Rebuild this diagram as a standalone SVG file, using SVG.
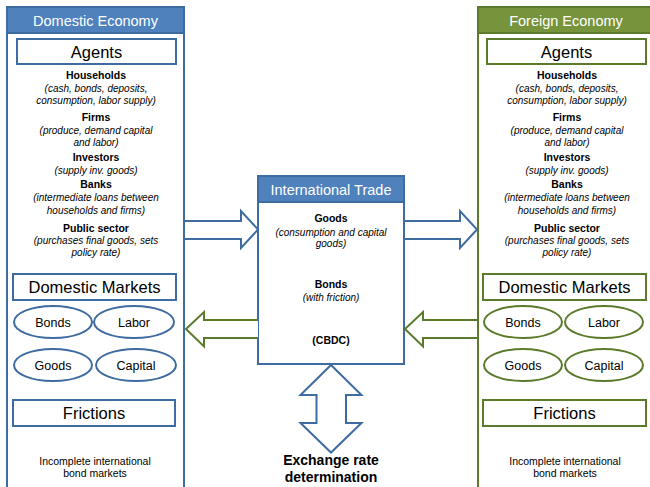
<svg xmlns="http://www.w3.org/2000/svg" width="650" height="487" viewBox="0 0 650 487">
<style>
  text{font-family:"Liberation Sans",Arial,sans-serif;text-anchor:middle;fill:#000}
  .hd{fill:#fff;font-size:14.5px}
  .big{font-size:16.5px}
  .b{font-weight:bold;font-size:10.5px}
  .i{font-style:italic;font-size:10px}
  .n{font-size:10.5px}
  .el{font-size:12.5px}
  .xr{font-weight:bold;font-size:14px}
  .bst{stroke:#3E6BA0;stroke-width:2;fill:#fff}
  .gst{stroke:#5B7A2B;stroke-width:2;fill:#fff}
  .bhd{fill:#4F81BD;stroke:#3E6BA0;stroke-width:2}
  .ghd{fill:#77933C;stroke:#5B7A2B;stroke-width:2}
  .bar{fill:#fff;stroke:#3E6BA0;stroke-width:2;stroke-linejoin:miter}
  .gar{fill:#fff;stroke:#5B7A2B;stroke-width:2;stroke-linejoin:miter}
</style>
<rect width="650" height="487" fill="#fff"/>

<g id="domestic">
  <rect class="bst" x="7" y="7" width="177" height="490"/>
  <rect class="bhd" x="7" y="7" width="177" height="26"/>
  <text class="hd" x="95.5" y="25.5">Domestic Economy</text>
  <rect class="bst" x="17" y="39" width="159" height="25"/>
  <text class="big" x="96.5" y="57.5">Agents</text>
  <text class="b" x="96" y="79">Households</text>
  <text class="i" x="96" y="91.5">(cash, bonds, deposits,</text>
  <text class="i" x="96" y="103.5">consumption, labor supply)</text>
  <text class="b" x="96" y="121">Firms</text>
  <text class="i" x="96" y="133.5">(produce, demand capital</text>
  <text class="i" x="96" y="146">and labor)</text>
  <text class="b" x="96" y="161">Investors</text>
  <text class="i" x="96" y="174">(supply inv. goods)</text>
  <text class="b" x="96" y="188">Banks</text>
  <text class="i" x="96" y="201">(intermediate loans between</text>
  <text class="i" x="96" y="213.5">households and firms)</text>
  <text class="b" x="96" y="231.5">Public sector</text>
  <text class="i" x="96" y="243.5">(purchases final goods, sets</text>
  <text class="i" x="96" y="255.5">policy rate)</text>
  <rect class="bst" x="13" y="274" width="163" height="26"/>
  <text class="big" x="94.5" y="293">Domestic Markets</text>
  <ellipse class="bst" cx="53" cy="322" rx="39" ry="16"/>
  <text class="el" x="53" y="326.5">Bonds</text>
  <ellipse class="bst" cx="134" cy="322" rx="40" ry="16"/>
  <text class="el" x="134" y="326.5">Labor</text>
  <ellipse class="bst" cx="53" cy="365" rx="39" ry="16"/>
  <text class="el" x="53" y="369.5">Goods</text>
  <ellipse class="bst" cx="136" cy="365" rx="40" ry="16"/>
  <text class="el" x="136" y="369.5">Capital</text>
  <rect class="bst" x="13" y="400" width="162" height="26"/>
  <text class="big" x="94" y="419">Frictions</text>
  <text class="n" x="95" y="464.5">Incomplete international</text>
  <text class="n" x="95" y="476.5">bond markets</text>
</g>

<g id="foreign">
  <rect class="gst" x="478" y="7" width="185" height="490"/>
  <rect class="ghd" x="478" y="7" width="185" height="26"/>
  <text class="hd" x="566" y="25.5">Foreign Economy</text>
  <rect class="gst" x="487" y="39" width="159" height="25"/>
  <text class="big" x="566.5" y="57.5">Agents</text>
  <text class="b" x="567" y="79">Households</text>
  <text class="i" x="567" y="91.5">(cash, bonds, deposits,</text>
  <text class="i" x="567" y="103.5">consumption, labor supply)</text>
  <text class="b" x="567" y="121">Firms</text>
  <text class="i" x="567" y="133.5">(produce, demand capital</text>
  <text class="i" x="567" y="146">and labor)</text>
  <text class="b" x="567" y="161">Investors</text>
  <text class="i" x="567" y="174">(supply inv. goods)</text>
  <text class="b" x="567" y="188">Banks</text>
  <text class="i" x="567" y="201">(intermediate loans between</text>
  <text class="i" x="567" y="213.5">households and firms)</text>
  <text class="b" x="567" y="231.5">Public sector</text>
  <text class="i" x="567" y="243.5">(purchases final goods, sets</text>
  <text class="i" x="567" y="255.5">policy rate)</text>
  <rect class="gst" x="483" y="274" width="163" height="26"/>
  <text class="big" x="564.5" y="293">Domestic Markets</text>
  <ellipse class="gst" cx="523" cy="322" rx="39" ry="16"/>
  <text class="el" x="523" y="326.5">Bonds</text>
  <ellipse class="gst" cx="604" cy="322" rx="39" ry="16"/>
  <text class="el" x="604" y="326.5">Labor</text>
  <ellipse class="gst" cx="523" cy="365" rx="39" ry="16"/>
  <text class="el" x="523" y="369.5">Goods</text>
  <ellipse class="gst" cx="604" cy="365" rx="39" ry="16"/>
  <text class="el" x="604" y="369.5">Capital</text>
  <rect class="gst" x="483" y="400" width="163" height="26"/>
  <text class="big" x="564.5" y="419">Frictions</text>
  <text class="n" x="565" y="464.5">Incomplete international</text>
  <text class="n" x="565" y="476.5">bond markets</text>
</g>

<g id="trade">
  <rect class="bst" x="258" y="176" width="146" height="188"/>
  <rect class="bhd" x="258" y="176" width="146" height="26"/>
  <text class="hd" x="331" y="194.5">International Trade</text>
  <text class="b" x="331" y="222">Goods</text>
  <text class="i" x="331" y="235.5">(consumption and capital</text>
  <text class="i" x="331" y="247">goods)</text>
  <text class="b" x="331" y="288">Bonds</text>
  <text class="i" x="331" y="300.5">(with friction)</text>
  <text class="b" x="331" y="343.5">(CBDC)</text>
</g>

<g id="exchange">
  <text class="xr" x="331" y="465">Exchange rate</text>
  <text class="xr" x="331" y="482">determination</text>
</g>

<g id="connectors">
  <path class="bar" d="M185,221 H241 V211 L258,229.5 L241,248 V239 H185"/>
  <path class="bar" d="M405,221 H460 V211 L477,229.5 L460,248 V239 H405"/>
  <path class="gar" d="M258,320 H204 V312 L186,329 L204,346.5 V338 H258"/>
  <path class="gar" d="M477,320 H423 V312 L405,329 L423,346.5 V338 H477"/>
  <path class="bar" d="M331,365 L361.5,395 H346 V423 H361.5 L331,452.5 L300.5,423 H316.5 V395 H300.5 Z"/>
</g>
</svg>
